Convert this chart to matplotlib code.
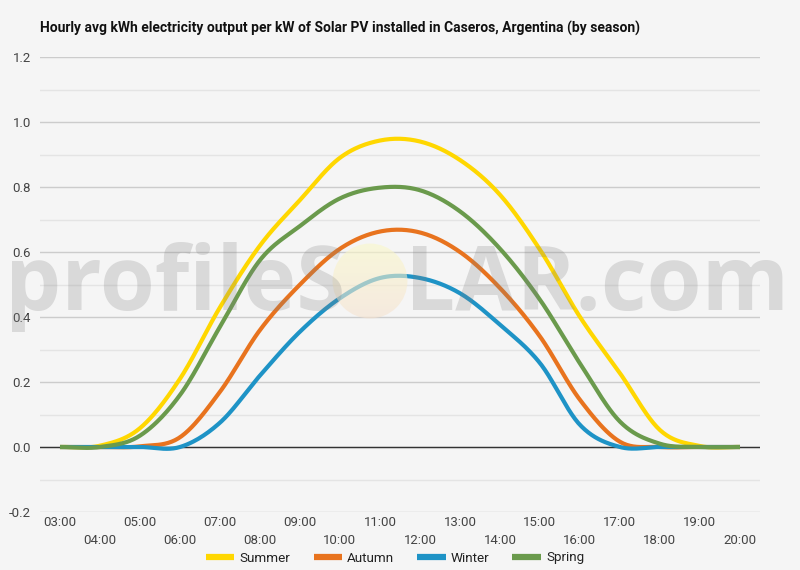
import matplotlib
matplotlib.use('Agg')
import matplotlib.pyplot as plt
import numpy as np
from matplotlib.patches import Circle

plt.rcParams['font.family'] = ['Roboto', 'DejaVu Sans']

hours = list(range(3, 21))
hour_labels = ['%02d:00' % h for h in hours]
seasons = ['Summer', 'Autumn', 'Winter', 'Spring']
summer = [0, 0.004, 0.058, 0.21, 0.43, 0.62, 0.76, 0.89, 0.943, 0.94, 0.883, 0.776, 0.607, 0.40, 0.227, 0.052, 0.003, 0]
autumn = [0, 0, 0.002, 0.03, 0.17, 0.36, 0.50, 0.61, 0.663, 0.66, 0.60, 0.489, 0.34, 0.145, 0.016, 0, 0, 0]
winter = [0, 0, 0, 0, 0.075, 0.22, 0.355, 0.458, 0.52, 0.52, 0.473, 0.376, 0.258, 0.068, 0, 0, 0, 0]
spring = [0, 0, 0.035, 0.16, 0.37, 0.575, 0.68, 0.765, 0.798, 0.79, 0.725, 0.61, 0.453, 0.257, 0.078, 0.01, 0, 0]
colors = ['#FFD700', '#E8731E', '#1E93C6', '#6A9A4C']


def smooth(x, y, n=24):
    # catmull-rom through the hourly points
    x = np.asarray(x, float)
    y = np.asarray(y, float)
    m = np.gradient(y, x)
    xs, ys = [], []
    for i in range(len(x) - 1):
        h = x[i + 1] - x[i]
        t = np.linspace(0, 1, n, endpoint=False)
        h00 = 2 * t**3 - 3 * t**2 + 1
        h10 = t**3 - 2 * t**2 + t
        h01 = -2 * t**3 + 3 * t**2
        h11 = t**3 - t**2
        xs.append(x[i] + t * h)
        ys.append(h00 * y[i] + h10 * h * m[i] + h01 * y[i + 1] + h11 * h * m[i + 1])
    xs.append([x[-1]])
    ys.append([y[-1]])
    return np.concatenate(xs), np.concatenate(ys)


bg = '#F5F5F5'
fig = plt.figure(figsize=(8, 5.7), dpi=100, facecolor=bg)
ax = fig.add_axes([0.05, 1 - 512 / 570, 0.90, (512 - 57) / 570])
ax.set_facecolor(bg)

for name, vals, c in zip(seasons, [summer, autumn, winter, spring], colors):
    sx, sy = smooth(hours, vals)
    ax.plot(sx, sy, color=c, lw=3.0, label=name, zorder=3, solid_capstyle='butt')

ax.set_xlim(2.5, 20.5)
ax.set_ylim(-0.2, 1.2)
ax.set_yticks(np.arange(-0.2, 1.21, 0.2))
ax.set_yticklabels(['%.1f' % v for v in np.arange(-0.2, 1.21, 0.2)])
ax.set_yticks(np.arange(-0.1, 1.2, 0.2), minor=True)
ax.grid(axis='y', which='major', color='#CCCCCC', lw=1.0, zorder=0)
ax.grid(axis='y', which='minor', color='#E4E4E4', lw=1.0, zorder=0)
ax.axhline(0, color='#333333', lw=1.0, zorder=2)

ax.set_xticks(hours[::2])
ax.set_xticklabels(hour_labels[::2])
ax.set_xticks(hours[1::2], minor=True)
ax.set_xticklabels(hour_labels[1::2], minor=True)
ax.tick_params(axis='x', which='major', length=0, pad=3, labelsize=9.5, labelcolor='#444444')
ax.tick_params(axis='x', which='minor', length=0, pad=16, labelsize=9.5, labelcolor='#444444')
ax.tick_params(axis='y', which='both', length=0, pad=6.5, labelsize=9.5, labelcolor='#444444')
for s in ['top', 'right', 'left', 'bottom']:
    ax.spines[s].set_visible(False)

fig.text(40 / 800, 1 - 28 / 570, 'Hourly avg kWh electricity output per kW of Solar PV installed in Caseros, Argentina (by season)',
         fontsize=10, fontweight='bold', color='#111111', va='center', ha='left')

leg = fig.legend(loc='center', bbox_to_anchor=(0.494, 1 - 558 / 570), ncol=4, frameon=False,
                 fontsize=9.7, handlelength=2.1, handletextpad=0.4, columnspacing=1.7)
for line in leg.get_lines():
    line.set_linewidth(4.5)
for t in leg.get_texts():
    t.set_color('#222222')

# watermark
fig.text(5 / 800, 1 - 310 / 570, 'profileS', fontsize=64, fontweight='bold', family='Open Sans',
         color='#808080', alpha=0.24, ha='left', va='baseline', zorder=10)
fig.text(405 / 800, 1 - 310 / 570, 'LAR.com', fontsize=64, fontweight='bold', family='Open Sans',
         color='#808080', alpha=0.24, ha='left', va='baseline', zorder=10)

# sun in place of the O, soft yellow-to-peach gradient
sax = fig.add_axes([331 / 800, 1 - 320 / 570, 78 / 800, 78 / 570], zorder=5)
sax.set_xlim(0, 1)
sax.set_ylim(0, 1)
sax.axis('off')
sax.patch.set_alpha(0)
top = np.array([251, 249, 200]) / 255
bottom = np.array([246, 226, 208]) / 255
g = np.linspace(0, 1, 64)[:, None]
grad = (1 - g)[..., None] * top + g[..., None] * bottom
grad = np.repeat(grad, 2, axis=1)
im = sax.imshow(grad, extent=[0, 1, 0, 1], aspect='auto', alpha=0.6, origin='upper')
clip = Circle((0.5, 0.5), 0.48, transform=sax.transData)
im.set_clip_path(clip)

fig.savefig('out.png', dpi=100, facecolor=bg)
